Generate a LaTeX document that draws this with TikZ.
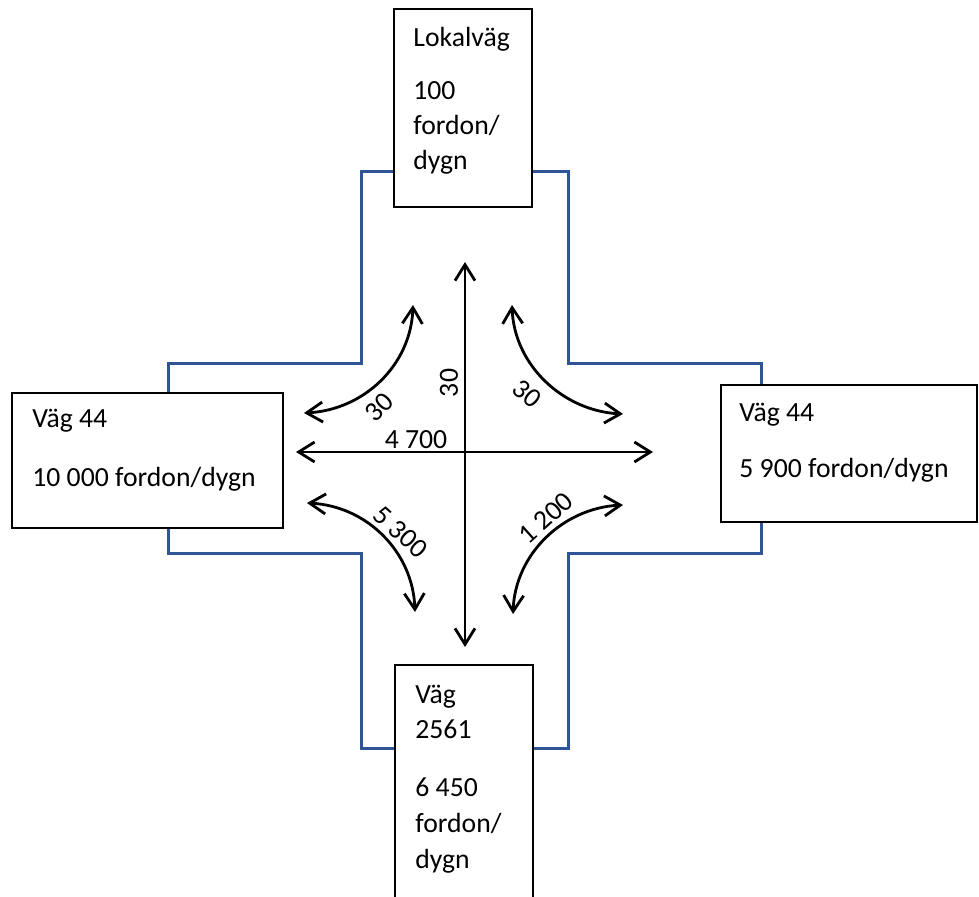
\documentclass[tikz,border=0pt]{standalone}
\usepackage{fontspec}
\setmainfont{Carlito}
\usetikzlibrary{arrows.meta}
\definecolor{roadblue}{RGB}{47,85,151}
\begin{document}
\begin{tikzpicture}[x=0.5pt,y=0.5pt,
  roadline/.style={draw=roadblue, line width=1.5pt, line join=miter},
  box/.style={draw=black, fill=white, line width=0.75pt, inner sep=0pt, outer sep=0pt},
  txt/.style={anchor=base west, inner sep=0pt, font=\fontsize{13.85}{16}\selectfont},
  lbl/.style={inner sep=0pt, font=\fontsize{13.85}{16}\selectfont},
  flow/.style={draw=black, line width=1.4pt, {Straight Barb[length=8pt,width=10pt]}-{Straight Barb[length=8pt,width=10pt]}}
]
\useasboundingbox (0,0) rectangle (979,-897);
\clip (0,0) rectangle (979,-897);
\fill[white] (0,0) rectangle (979,-897);

% road outline (cross)
\draw[roadline] (361,-172) -- (568,-172) -- (568,-364) -- (761,-364) -- (761,-553)
  -- (568,-553) -- (568,-748) -- (361,-748) -- (361,-553) -- (168,-553)
  -- (168,-364) -- (361,-364) -- cycle;

% boxes
\node[box, minimum width=69pt, minimum height=99pt] (topbox) at (463,-108) {};
\node[box, minimum width=135.5pt, minimum height=67.5pt] (leftbox) at (147.5,-460.5) {};
\node[box, minimum width=128pt, minimum height=68.5pt] (rightbox) at (849,-453.5) {};
\node[box, minimum width=69pt, minimum height=120pt] (botbox) at (464,-785) {};

% box texts
\node[txt] (t1) at (413,-47) {Lokalväg};
\node[txt] (t2) at (413,-100) {100};
\node[txt] (t3) at (413,-135) {fordon/};
\node[txt] (t4) at (413,-170) {dygn};

\node[txt] (l1) at (32,-428) {Väg 44};
\node[txt] (l2) at (32,-487) {10 000 fordon/dygn};

\node[txt] (r1) at (739,-422) {Väg 44};
\node[txt] (r2) at (739,-478) {5 900 fordon/dygn};

\node[txt] (b1) at (415,-703) {Väg};
\node[txt] (b2) at (415,-738) {2561};
\node[txt] (b3) at (415,-796) {6 450};
\node[txt] (b4) at (415,-832) {fordon/};
\node[txt] (b5) at (415,-868) {dygn};

% arrow end points
\coordinate (vN) at (465,-262);
\coordinate (vS) at (465,-647);
\coordinate (hW) at (296,-452);
\coordinate (hE) at (653,-452);
\coordinate (ulW) at (304,-413);
\coordinate (ulN) at (413,-305);
\coordinate (urN) at (512,-305);
\coordinate (urE) at (623,-414);
\coordinate (llW) at (307,-503);
\coordinate (llS) at (415,-612);
\coordinate (lrS) at (513,-614);
\coordinate (lrE) at (623,-505);

% straight arrows
\draw[flow] (vS) -- (vN);
\draw[flow] (hW) -- (hE);

% turning arrows
\draw[flow] (ulW) .. controls (364,-410) and (411,-365) .. (ulN);
\draw[flow] (urN) .. controls (514,-365) and (563,-411) .. (urE);
\draw[flow] (llW) .. controls (367,-506) and (413,-552) .. (llS);
\draw[flow] (lrS) .. controls (515,-554) and (563,-508) .. (lrE);

% flow labels
\node[lbl] (lh) at (416,-440) {4 700};
\node[lbl, rotate=90] (lv) at (449,-383) {30};
\node[lbl, rotate=45] (lul) at (379,-407) {30};
\node[lbl, rotate=-40] (lur) at (527,-394) {30};
\node[lbl, rotate=-42] (lll) at (401,-532) {5 300};
\node[lbl, rotate=42] (llr) at (546,-518) {1 200};
\end{tikzpicture}
\end{document}
